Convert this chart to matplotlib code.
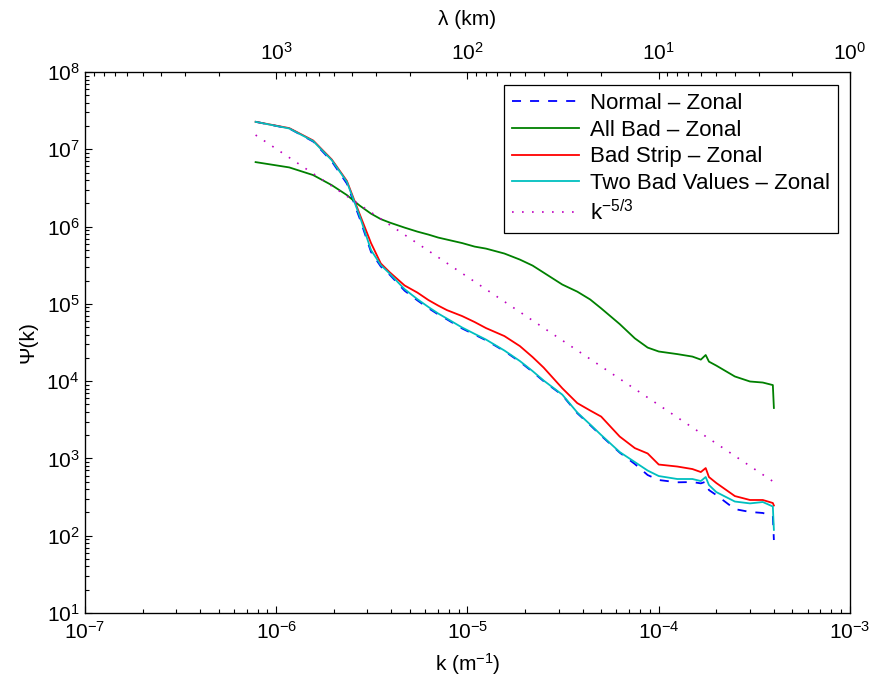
import numpy as np
import matplotlib
matplotlib.use("Agg")
import matplotlib.pyplot as plt
from matplotlib.ticker import LogLocator, NullFormatter

plt.rcParams['font.family'] = ['Liberation Sans', 'DejaVu Sans']
plt.rcParams['mathtext.fontset'] = 'custom'
plt.rcParams['mathtext.rm'] = 'Liberation Sans'
plt.rcParams['mathtext.it'] = 'Liberation Sans:italic'
plt.rcParams['mathtext.bf'] = 'Liberation Sans:bold'

# wavenumber (m^-1)
k = [7.8e-7, 1.17e-6, 1.56e-6, 1.95e-6, 2.34e-6, 2.73e-6, 3.13e-6, 3.52e-6,
     3.91e-6, 4.69e-6, 5.47e-6, 6.25e-6, 7.03e-6, 7.81e-6, 9.38e-6, 1.09e-5,
     1.25e-5, 1.56e-5, 1.88e-5, 2.19e-5, 2.50e-5, 3.13e-5, 3.75e-5, 4.38e-5,
     5.00e-5, 6.25e-5, 7.50e-5, 8.75e-5, 1.00e-4, 1.25e-4, 1.50e-4, 1.66e-4,
     1.76e-4, 1.83e-4, 2.00e-4, 2.50e-4, 3.00e-4, 3.50e-4, 3.95e-4, 4.00e-4]

normal = [2.27e7, 1.86e7, 1.26e7, 7.0e6, 3.6e6, 1.28e6, 4.7e5, 3.05e5,
          2.40e5, 1.48e5, 1.11e5, 8.8e4, 7.3e4, 6.3e4, 4.8e4, 4.0e4,
          3.38e4, 2.45e4, 1.78e4, 1.32e4, 1.0e4, 6.6e3, 3.85e3, 2.7e3,
          1.97e3, 1.19e3, 847, 610, 526, 491, 495, 476,
          500, 390, 336, 221, 203, 197, 180, 88]

all_bad = [6.83e6, 5.83e6, 4.64e6, 3.44e6, 2.56e6, 1.87e6, 1.47e6, 1.25e6,
           1.13e6, 9.7e5, 8.61e5, 7.88e5, 7.21e5, 6.79e5, 6.12e5, 5.51e5,
           5.19e5, 4.48e5, 3.74e5, 3.13e5, 2.54e5, 1.78e5, 1.44e5, 1.14e5,
           8.75e4, 5.48e4, 3.58e4, 2.72e4, 2.42e4, 2.24e4, 2.08e4, 1.90e4,
           2.18e4, 1.79e4, 1.59e4, 1.15e4, 9.9e3, 9.6e3, 8.9e3, 4.5e3]

bad_strip = [2.27e7, 1.88e7, 1.30e7, 7.4e6, 3.9e6, 1.45e6, 6.12e5, 3.34e5,
             2.58e5, 1.73e5, 1.40e5, 1.12e5, 9.5e4, 8.3e4, 6.95e4, 5.82e4,
             4.86e4, 3.83e4, 2.84e4, 2.05e4, 1.50e4, 8.1e3, 5.2e3, 4.17e3,
             3.48e3, 1.92e3, 1.36e3, 1.16e3, 834, 786, 729, 667,
             751, 575, 481, 326, 290, 290, 265, 246]

two_bad = [2.27e7, 1.86e7, 1.28e7, 7.25e6, 3.8e6, 1.37e6, 4.97e5, 3.18e5,
           2.48e5, 1.55e5, 1.15e5, 9.1e4, 7.5e4, 6.45e4, 4.94e4, 4.09e4,
           3.45e4, 2.49e4, 1.82e4, 1.35e4, 1.02e4, 6.7e3, 3.93e3, 2.75e3,
           2.01e3, 1.21e3, 898, 697, 592, 542, 542, 510,
           575, 453, 367, 277, 262, 273, 239, 119]

# reference slope line, end points
k_ref = [7.8e-7, 4.0e-4]
psi_ref = [1.53e7, 495]

fig = plt.figure(figsize=(8.7, 6.88), dpi=100)
ax = fig.add_axes([0.0977, 0.109, 0.8793, 0.7863])

lw = 1.3
ax.plot(k, normal, color=(0, 0, 1), lw=lw, dashes=(5, 5), label='Normal \u2013 Zonal')
ax.plot(k, all_bad, color=(0, 0.5, 0), lw=lw, label='All Bad \u2013 Zonal')
ax.plot(k, bad_strip, color=(1, 0, 0), lw=lw, label='Bad Strip \u2013 Zonal')
ax.plot(k, two_bad, color=(0, 0.75, 0.75), lw=lw, label='Two Bad Values \u2013 Zonal')
ax.plot(k_ref, psi_ref, color=(0.75, 0, 0.75), lw=1.2, dashes=(1, 5),
        label='k$^{-5/3}$')

ax.set_xscale('log')
ax.set_yscale('log')
ax.set_xlim(1e-7, 1e-3)
ax.set_ylim(1e1, 1e8)
ax.set_yticks([10.0 ** p for p in range(1, 9)])
ax.yaxis.set_minor_locator(LogLocator(base=10, subs=np.arange(2, 10), numticks=20))
ax.yaxis.set_minor_formatter(NullFormatter())
ax.xaxis.set_minor_locator(LogLocator(base=10, subs=np.arange(2, 10), numticks=20))
ax.xaxis.set_minor_formatter(NullFormatter())

ax.tick_params(which='both', direction='in', top=False, right=False, labelsize=15)
ax.tick_params(which='major', length=5, width=0.8)
ax.tick_params(which='minor', length=3, width=0.8)
ax.tick_params(axis='x', pad=6)
ax.tick_params(axis='y', pad=4)
for s in ax.spines.values():
    s.set_linewidth(0.9)

ax.set_xlabel('k (m$^{-1}$)', fontsize=15, labelpad=6)
ax.set_ylabel('\u03a8(k)', fontsize=15, labelpad=6)

# wavelength axis on top: lambda = 1/k, in km
ax2 = ax.twiny()
ax2.set_xscale('log')
ax2.set_xlim(1e4, 1e0)
ax2.set_xticks([1e3, 1e2, 1e1, 1e0])
ax2.xaxis.set_minor_locator(LogLocator(base=10, subs=np.arange(2, 10), numticks=20))
ax2.xaxis.set_minor_formatter(NullFormatter())
ax2.tick_params(which='both', direction='in', labelsize=15, pad=6)
ax2.tick_params(which='major', length=5, width=0.8)
ax2.tick_params(which='minor', length=3, width=0.8)
ax2.set_xlabel('\u03bb (km)', fontsize=15, labelpad=12)

leg = ax.legend(loc='upper right', bbox_to_anchor=(0.984, 0.976), borderaxespad=0,
                fontsize=16, handlelength=3.0, handletextpad=0.5,
                labelspacing=0.26, borderpad=0.35, fancybox=False, framealpha=1)
leg.get_frame().set_edgecolor('black')
leg.get_frame().set_linewidth(0.9)

fig.savefig('out.png', dpi=100)
